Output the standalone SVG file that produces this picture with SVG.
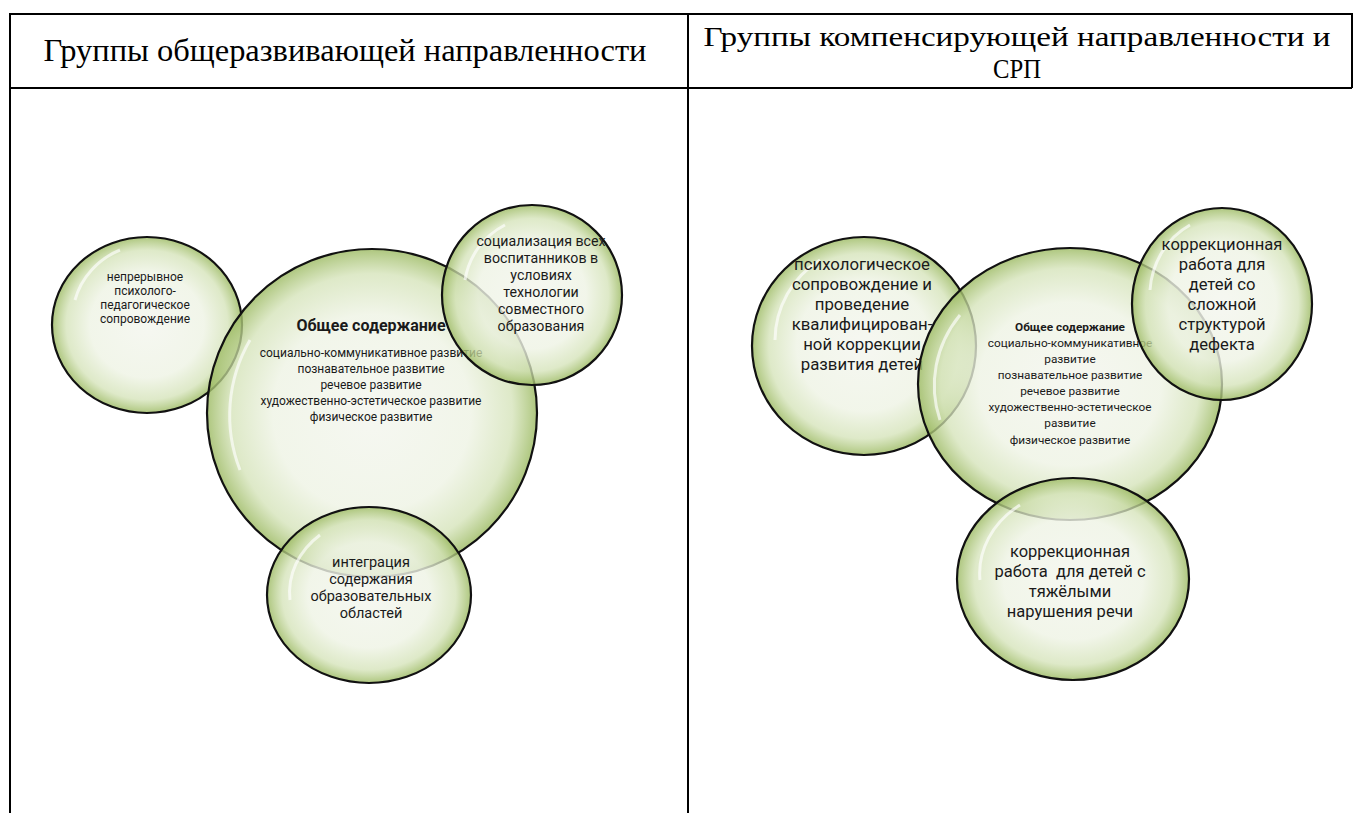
<svg xmlns="http://www.w3.org/2000/svg" width="1354" height="813" viewBox="0 0 1354 813">
<style>
.hdr{font-family:"Liberation Serif","Times New Roman",serif;font-size:32px;fill:#000;text-anchor:middle}
.hdr2{font-size:27px}
.t{font-family:Roboto,"Noto Sans","Liberation Sans",sans-serif;fill:#1a1a1a;text-anchor:middle}
.b{font-weight:bold}
.bub{fill:url(#g);stroke:#111;stroke-width:2.2}
.hl{fill:none;stroke:#fff;stroke-opacity:0.65;stroke-width:3}
.grid{stroke:#000;stroke-width:2;fill:none}
</style>
<defs>
<radialGradient id="g" cx="50%" cy="50%" r="50%">
<stop offset="0" stop-color="#f4f6ef" stop-opacity="0.85"/>
<stop offset="0.6" stop-color="#eef3e4" stop-opacity="0.8"/>
<stop offset="0.85" stop-color="#d3e2b6" stop-opacity="0.75"/>
<stop offset="1" stop-color="#9cba62" stop-opacity="0.82"/>
</radialGradient>
</defs>
<rect width="1354" height="813" fill="#fff"/>
<g id="table">
<path class="grid" d="M10 14 H1352 M10 88 H1352 M10 13 V813 M688 13 V813 M1352 13 V88"/>
<text class="hdr" x="345" y="61" textLength="603" lengthAdjust="spacingAndGlyphs">Группы общеразвивающей направленности</text>
<text class="hdr hdr2" x="1017" y="46" textLength="627" lengthAdjust="spacingAndGlyphs">Группы компенсирующей направленности и</text>
<text class="hdr hdr2" x="1017" y="78" textLength="48" lengthAdjust="spacingAndGlyphs">СРП</text>
</g>
<g id="connectors"/>
<g id="left-psych">
<ellipse class="bub" cx="147" cy="325" rx="95" ry="88"/>
<path class="hl" d="M75 300 A80 75 0 0 1 120 250"/>
<text class="t" font-size="12"><tspan x="145" y="281">непрерывное</tspan><tspan x="145" y="295">психолого-</tspan><tspan x="145" y="309">педагогическое</tspan><tspan x="145" y="323">сопровождение</tspan></text>
</g>
<g id="left-main">
<ellipse class="bub" cx="372" cy="413" rx="165" ry="164"/>
<path class="hl" d="M240 470 A150 150 0 0 1 250 340"/>
<text class="t b" font-size="16" x="371" y="331">Общее содержание</text>
<text class="t" font-size="12"><tspan x="371" y="357">социально-коммуникативное развитие</tspan><tspan x="371" y="373">познавательное развитие</tspan><tspan x="371" y="389">речевое развитие</tspan><tspan x="371" y="405">художественно-эстетическое развитие</tspan><tspan x="371" y="421">физическое развитие</tspan></text>
</g>
<g id="left-social">
<ellipse class="bub" cx="532" cy="295" rx="90" ry="90"/>
<path class="hl" d="M465 280 A75 75 0 0 1 505 225"/>
<text class="t" font-size="14.2"><tspan x="541" y="246">социализация всех</tspan><tspan x="541" y="263">воспитанников в</tspan><tspan x="541" y="280">условиях</tspan><tspan x="541" y="297">технологии</tspan><tspan x="541" y="314">совместного</tspan><tspan x="541" y="331">образования</tspan></text>
</g>
<g id="left-integr">
<ellipse class="bub" cx="369" cy="595" rx="102" ry="88"/>
<path class="hl" d="M290 600 A85 75 0 0 1 320 535"/>
<text class="t" font-size="14.5"><tspan x="371" y="567">интеграция</tspan><tspan x="371" y="584">содержания</tspan><tspan x="371" y="601">образовательных</tspan><tspan x="371" y="618">областей</tspan></text>
</g>
<g id="right-psych">
<ellipse class="bub" cx="864" cy="346" rx="112" ry="109"/>
<path class="hl" d="M775 340 A95 95 0 0 1 820 260"/>
<text class="t" font-size="16.8"><tspan x="862" y="270">психологическое</tspan><tspan x="862" y="290">сопровождение и</tspan><tspan x="862" y="310">проведение</tspan><tspan x="862" y="330">квалифицирован-</tspan><tspan x="862" y="350">ной коррекции</tspan><tspan x="862" y="370">развития детей</tspan></text>
</g>
<g id="right-main">
<ellipse class="bub" cx="1070" cy="384" rx="152" ry="136"/>
<path class="hl" d="M940 420 A135 120 0 0 1 960 315"/>
<text class="t b" font-size="11.8" x="1070" y="331">Общее содержание</text>
<text class="t" font-size="11.8"><tspan x="1070" y="347">социально-коммуникативное</tspan><tspan x="1070" y="363">развитие</tspan><tspan x="1070" y="379">познавательное развитие</tspan><tspan x="1070" y="395">речевое развитие</tspan><tspan x="1070" y="411">художественно-эстетическое</tspan><tspan x="1070" y="427">развитие</tspan><tspan x="1070" y="444">физическое развитие</tspan></text>
</g>
<g id="right-complex">
<ellipse class="bub" cx="1222" cy="304" rx="90" ry="96"/>
<path class="hl" d="M1150 290 A75 80 0 0 1 1190 225"/>
<text class="t" font-size="16.6"><tspan x="1222" y="250">коррекционная</tspan><tspan x="1222" y="270">работа для</tspan><tspan x="1222" y="290">детей со</tspan><tspan x="1222" y="310">сложной</tspan><tspan x="1222" y="330">структурой</tspan><tspan x="1222" y="350">дефекта</tspan></text>
</g>
<g id="right-speech">
<ellipse class="bub" cx="1073" cy="579" rx="116" ry="101"/>
<path class="hl" d="M980 580 A100 85 0 0 1 1020 505"/>
<text class="t" font-size="16.5"><tspan x="1070" y="557">коррекционная</tspan><tspan x="1070" y="577" xml:space="preserve">работа  для детей с</tspan><tspan x="1070" y="597">тяжёлыми</tspan><tspan x="1070" y="617">нарушения речи</tspan></text>
</g>
</svg>
